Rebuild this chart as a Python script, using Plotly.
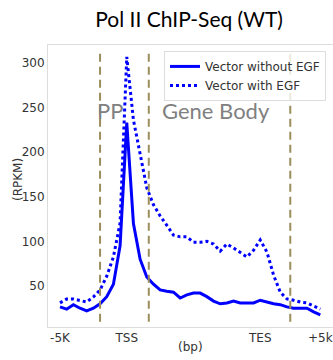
import plotly.graph_objects as go

bins = list(range(40))
without_egf = [26.5, 24, 29, 25, 22, 25, 30, 38, 52, 95,
               233, 120, 80, 60, 52, 45.5, 44, 43, 36.5, 40,
               42, 42, 38, 33, 30, 31, 33, 31, 31, 31,
               34, 32, 30, 29, 26.5, 25, 25, 25, 21, 17.5]
with_egf = [31, 35.4, 35.4, 34, 32, 37.7, 45.5, 61, 82.5, 120.6,
            306.7, 236, 199, 160, 141, 128.5, 118, 107, 105, 105,
            99, 99, 100, 97, 89, 97, 92.6, 88, 82.5, 90,
            101.5, 88, 62, 43, 35.4, 34, 32, 31, 27.6, 24]
tick_pos = [0, 10, 30, 39]
tick_text = ["-5K", "TSS", "TES", "+5k"]
region_lines = [6, 13.3, 34.5]

plot_l, plot_r, plot_t, plot_b = 48, 333, 45, 327


def px_to_paper(px, py):
    return (px - plot_l) / (plot_r - plot_l), (plot_b - py) / (plot_b - plot_t)


fig = go.Figure()
fig.add_trace(go.Scatter(x=bins, y=without_egf, mode="lines", name="Vector without EGF",
                         line=dict(color="#0000ff", width=3)))
fig.add_trace(go.Scatter(x=bins, y=with_egf, mode="lines", name="Vector with EGF",
                         line=dict(color="#0000ff", width=3, dash="dot")))

for xv in region_lines:
    fig.add_shape(type="line", x0=xv, x1=xv, y0=10, y1=315, xref="x", yref="y",
                  line=dict(color="#9b8e5c", width=2, dash="8px,5px"), layer="above")

fig.add_annotation(x=7.5, y=247, text="PP", showarrow=False,
                   font=dict(family="Lato", size=22, color="#808080"))
fig.add_annotation(x=23.4, y=247, text="Gene Body", showarrow=False,
                   font=dict(family="Lato", size=22, color="#808080"))

ax, ay = px_to_paper(18, 180)
fig.add_annotation(x=ax, y=ay, xref="paper", yref="paper", text="(RPKM)", showarrow=False,
                   textangle=-90, xanchor="center", yanchor="middle",
                   font=dict(family="DejaVu Sans", size=12, color="#333333"))
bx, by = px_to_paper(190, 347)
fig.add_annotation(x=bx, y=by, xref="paper", yref="paper", text="(bp)", showarrow=False,
                   xanchor="center", yanchor="middle",
                   font=dict(family="DejaVu Sans", size=12, color="#333333"))

fig.update_layout(
    width=333, height=360,
    margin=dict(l=48, r=0, t=45, b=33),
    paper_bgcolor="white", plot_bgcolor="white",
    title=dict(text="Pol II ChIP-Seq (WT)", x=0.568, xanchor="center", y=0.945, yanchor="middle",
               font=dict(family="Lato", size=21, color="black")),
    font=dict(family="DejaVu Sans", size=12, color="#333333"),
    showlegend=True,
    legend=dict(x=0.407, y=0.979, xanchor="left", yanchor="top",
                bgcolor="rgba(255,255,255,0.8)", bordercolor="#dddddd", borderwidth=1,
                font=dict(family="DejaVu Sans", size=12, color="#333333"),
                tracegroupgap=0, itemwidth=30),
    xaxis=dict(range=[-1.8, 40.9], tickvals=tick_pos, ticktext=tick_text,
               showgrid=False, zeroline=False, showline=True, linecolor="#dddddd", mirror=True,
               ticks="", ticklabeloverflow="allow", ticklabelstandoff=0),
    yaxis=dict(range=[4, 320], tickvals=[50, 100, 150, 200, 250, 300],
               showgrid=False, zeroline=False, showline=True, linecolor="#dddddd", mirror=True,
               ticks=""),
)

fig.write_html("out.html")
